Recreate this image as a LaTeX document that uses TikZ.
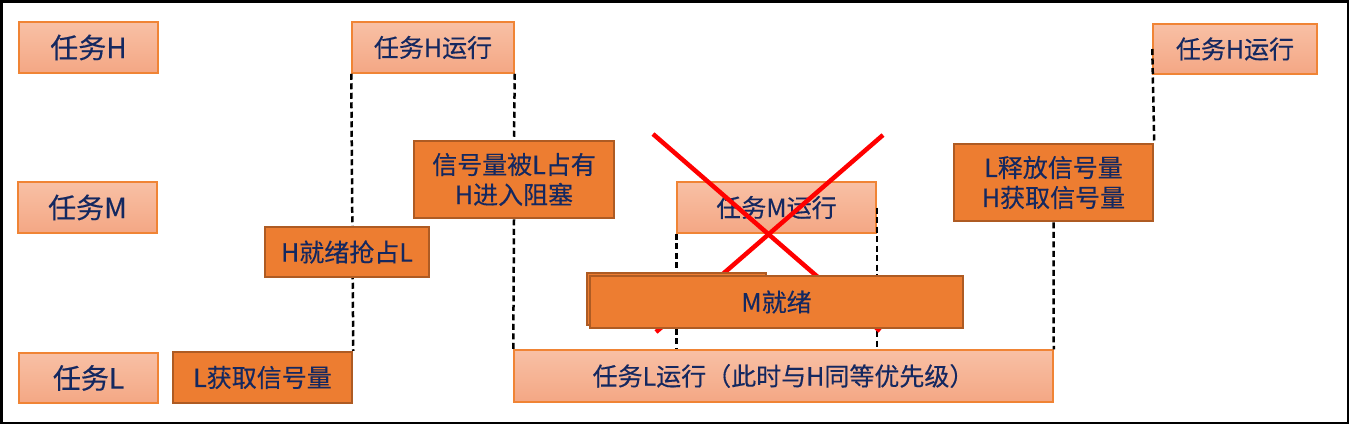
\documentclass[tikz,border=0pt]{standalone}
\usepackage{fontspec}
\setmainfont{Noto Sans CJK SC}[FakeBold=0.3]
\definecolor{txt}{HTML}{142860}
\definecolor{lightTop}{HTML}{F8C0A5}
\definecolor{lightBot}{HTML}{F4A784}
\definecolor{lightBd}{HTML}{F08435}
\definecolor{darkFill}{HTML}{ED7D31}
\definecolor{darkBd}{HTML}{AE5B23}
\definecolor{xred}{HTML}{FF0000}
\tikzset{
  lbox/.style={draw=lightBd, line width=1.5pt, top color=lightTop, bottom color=lightBot,
    rectangle, inner sep=0pt, text=txt, font=\fontsize{25}{30}\selectfont, align=center},
  tbox/.style={lbox, font=\fontsize{28}{32}\selectfont},
  dbox/.style={draw=darkBd, line width=2.5pt, fill=darkFill, rectangle, inner sep=0pt,
    text=txt, font=\fontsize{25}{30}\selectfont, align=center},
  dline/.style={draw=black, line width=2.5pt, dash pattern=on 6pt off 3.5pt},
  xline/.style={draw=xred, line width=4.5pt}
}
\begin{document}
\begin{tikzpicture}[x=1pt,y=-1pt]
\useasboundingbox (0,0) rectangle (1349,424);
\draw[line width=2.5pt] (1.25,1.25) rectangle (1347.75,422.75);
% row labels
\node[tbox, minimum width=139pt, minimum height=51pt] (lH) at (88.5,47.5) {任务H};
\node[tbox, minimum width=139pt, minimum height=51pt] (lM) at (87.5,207.5) {任务M};
\node[tbox, minimum width=139pt, minimum height=50pt] (lL) at (88.5,378) {任务L};
% boxes
\node[lbox, minimum width=539pt, minimum height=52pt] (Lrun) at (783.5,376) {任务L运行（此时与H同等优先级）};
\node[dbox, minimum width=179pt, minimum height=51pt] (Lget) at (262.5,377.5) {L获取信号量};
\node[lbox, minimum width=162pt, minimum height=51pt] (Hrun1) at (433,47.5) {任务H运行};
\node[dbox, minimum width=200pt, minimum height=77pt] (Sem) at (514,179.5) {信号量被L占有\\H进入阻塞};
\node[lbox, minimum width=199pt, minimum height=51pt] (Mrun) at (776.5,207.5) {任务M运行};
\node[dbox, minimum width=199pt, minimum height=77pt] (Lrel) at (1053.5,182.5) {L释放信号量\\H获取信号量};
\node[lbox, minimum width=164pt, minimum height=50pt] (Hrun2) at (1235,49) {任务H运行};
% dashed connectors
\draw[dline] (Hrun1.south west) -- (Lget.north east);
\draw[dline] (Hrun1.south east) -- (Sem.north);
\draw[dline] (Sem.south) -- (Lrun.north west);
\draw[dline] (Mrun.south west) -- (Mrun.south west |- Lrun.north);
\draw[dline] (Mrun.east) -- (Mrun.east |- Lrun.north);
\draw[dline] (Lrel.south) -- (Lrun.north east);
\draw[dline] (Hrun2.west) -- (Lrel.north east);
% red cross
\coordinate (xa) at (653,134);
\coordinate (xb) at (880,331);
\coordinate (xc) at (883,135);
\coordinate (xd) at (656,332);
\draw[xline] (xa) -- (xb);
\draw[xline] (xc) -- (xd);
% M ready (with offset shadow box) and H ready
\node[dbox, minimum width=179pt, minimum height=52pt] (Mback) at (676.5,299) {};
\node[dbox, minimum width=373pt, minimum height=52pt] (Mready) at (776.5,302) {M就绪};
\node[dbox, minimum width=164pt, minimum height=50pt] (Hready) at (347,252) {H就绪抢占L};
\end{tikzpicture}
\end{document}
